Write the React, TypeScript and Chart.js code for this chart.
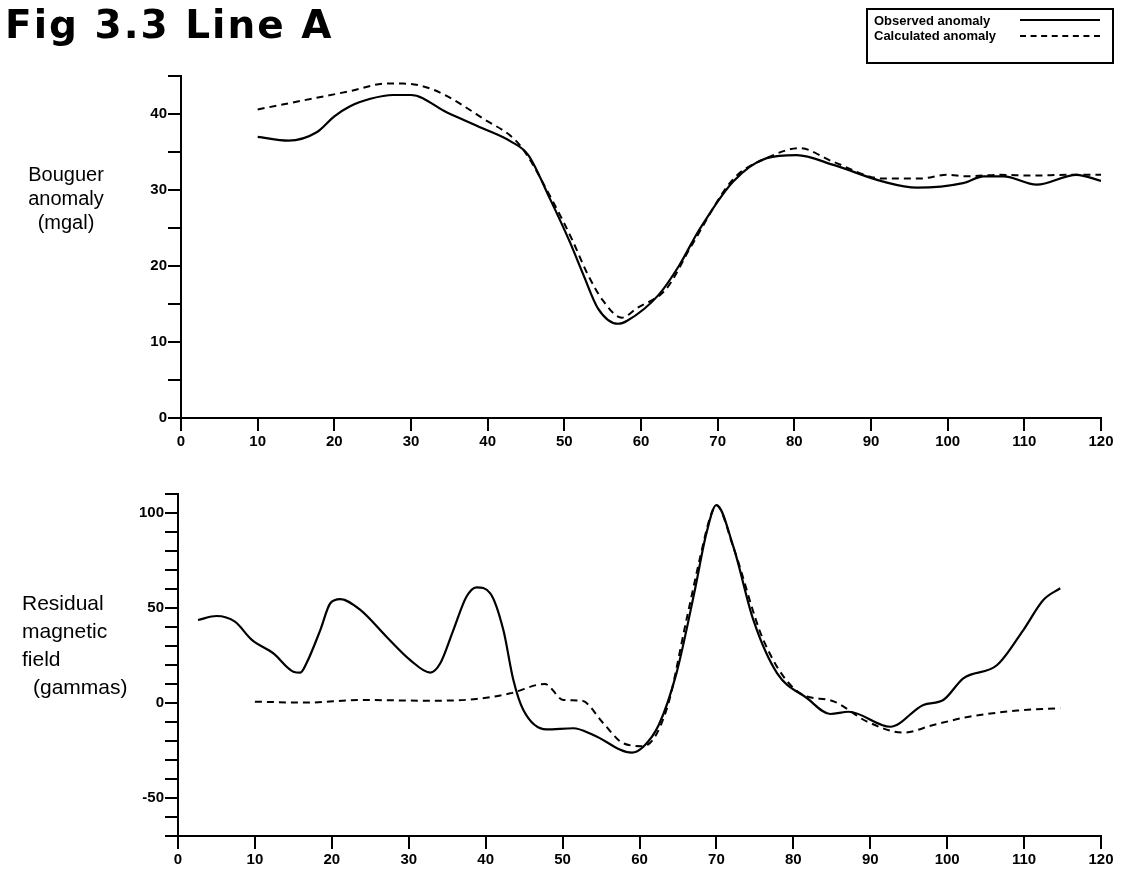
import React, { useEffect, useRef } from "react";
import { Chart, registerables } from "chart.js";

Chart.register(...registerables);

// ---- Top panel: Bouguer anomaly (mgal) ----
const gravObsX = [10, 14, 17.7, 20, 22, 24.7, 27.7, 30, 34.7, 39.4, 43, 45.3, 48.1, 50.7, 52.5, 54.4, 57, 58.2, 62.3, 65, 67.5, 72, 76.4, 80.3, 85.1, 91.6, 96, 102, 104.7, 107.3, 111.6, 116.8, 120];
const gravObsY = [37, 36.5, 37.6, 39.7, 41, 42, 42.5, 42.5, 40.2, 38.1, 36.4, 34.6, 28.9, 23.2, 18.8, 14.4, 12.4, 12.8, 16.2, 20.1, 24.6, 31.1, 34.2, 34.6, 33.3, 31.1, 30.3, 30.9, 31.8, 31.8, 30.7, 32, 31.2];
const gravCalcX = [10, 15.5, 22, 26.8, 29, 32.9, 39.4, 44.2, 48.5, 51, 53, 55, 57.5, 59.4, 63.3, 66.6, 72, 76.4, 80.7, 85.1, 91.6, 96.4, 99.9, 102.5, 106.8, 111.1, 115.5, 120];
const gravCalcY = [40.6, 41.7, 43, 44, 44, 43.2, 39.4, 35.9, 28.5, 23.5, 19, 15.5, 13.2, 14.4, 17, 22.7, 31.4, 34.2, 35.5, 33.7, 31.5, 31.5, 32, 31.8, 32, 31.9, 32, 32];

// ---- Bottom panel: Residual magnetic field (gammas) ----
const magObsX = [2.6, 5, 7.4, 9.6, 12.4, 15, 15.9, 16.7, 18.5, 19.8, 21.1, 23.7, 27.1, 30.2, 32.8, 34.1, 35.8, 37.5, 38.8, 40.6, 42.3, 43.6, 44.9, 47.9, 51.4, 54, 59, 60.5, 62.5, 64.8, 67.2, 68.7, 70, 72.2, 74.8, 77.9, 81.8, 84.8, 87.2, 92.6, 96.9, 99.5, 102.1, 106.5, 109.9, 112.5, 114.7];
const magObsY = [43.7, 45.8, 42.8, 33.2, 26.1, 16.5, 16, 20.9, 38.4, 52.5, 54.7, 49, 34.9, 22.6, 16, 20.9, 38.4, 55.9, 60.9, 57.7, 38.4, 12.1, -3.7, -13.9, -13.3, -16.8, -26.1, -23, -11.6, 15.6, 59.5, 89.3, 104.2, 82.3, 43.7, 15.6, 2.5, -5.8, -4.6, -12.5, -1, 1.6, 13, 20, 38.4, 54.2, 60.4];
const magCalcX = [10, 16.7, 23.7, 32.3, 38.8, 43.2, 47.7, 50.1, 52.5, 55.3, 57.9, 60.5, 63.5, 66.1, 67.9, 69.2, 70, 72.2, 76.1, 80.9, 85, 89.6, 94.3, 98.2, 102.5, 109.1, 114.7];
const magCalcY = [0.7, 0.2, 1.6, 1.2, 2.1, 5.1, 10, 1.6, 1.2, -10.7, -21.2, -22.7, -3.7, 43.7, 77, 98, 104, 82, 33.2, 5.1, 1.2, -9.8, -15.6, -11.6, -7.5, -4, -2.8];

// ---- Axis ticks ----
const xTickLabels = ["0", "10", "20", "30", "40", "50", "60", "70", "80", "90", "100", "110", "120"];
const gravLabelled = [0, 10, 20, 30, 40];
const magLabelled = [-50, 0, 50, 100];

const legendLabels = ["Observed anomaly", "Calculated anomaly"];

const zip = (xs: number[], ys: number[]) => xs.map((x, i) => ({ x, y: ys[i] }));

const tickFont = { family: "'Liberation Sans', Arial, sans-serif", size: 15, weight: "bold" as const };

function makeOptions(
  yMin: number,
  yMax: number,
  yStep: number,
  labelled: number[],
  yWidth: number,
  xHeight: number,
  padTop: number
) {
  return {
    responsive: false,
    animation: false as const,
    devicePixelRatio: 1,
    layout: { padding: { top: padTop, right: 27, left: 0, bottom: 0 } },
    plugins: { legend: { display: false }, tooltip: { enabled: false } },
    elements: { point: { radius: 0 } },
    scales: {
      x: {
        type: "linear" as const,
        min: 0,
        max: 120,
        afterFit: (s: any) => {
          s.height = xHeight;
        },
        afterBuildTicks: (s: any) => {
          s.ticks = xTickLabels.map((t) => ({ value: Number(t) }));
        },
        ticks: {
          color: "#000",
          font: tickFont,
          padding: 2,
          maxRotation: 0,
          autoSkip: false,
          callback: (v: any) => xTickLabels[xTickLabels.indexOf(String(v))] ?? "",
        },
        grid: { drawOnChartArea: false, drawTicks: true, tickLength: 13, color: "#000", lineWidth: 2 },
        border: { display: true, color: "#000", width: 2 },
      },
      y: {
        type: "linear" as const,
        min: yMin,
        max: yMax,
        afterFit: (s: any) => {
          s.width = yWidth;
        },
        ticks: {
          stepSize: yStep,
          color: "#000",
          font: tickFont,
          padding: 1,
          autoSkip: false,
          callback: (v: any) => (labelled.includes(Number(v)) ? String(v) : ""),
        },
        grid: { drawOnChartArea: false, drawTicks: true, tickLength: 13, color: "#000", lineWidth: 2 },
        border: { display: true, color: "#000", width: 2 },
      },
    },
  };
}

function lineSet(label: string, data: { x: number; y: number }[], dashed: boolean) {
  return {
    label,
    data,
    borderColor: "#000",
    backgroundColor: "#000",
    borderWidth: dashed ? 2 : 2.2,
    borderDash: dashed ? [7, 5] : [],
    pointRadius: 0,
    fill: false,
    cubicInterpolationMode: "monotone" as const,
  };
}

export default function App() {
  const topRef = useRef<HTMLCanvasElement>(null);
  const botRef = useRef<HTMLCanvasElement>(null);

  useEffect(() => {
    const top = new Chart(topRef.current!, {
      type: "line",
      data: {
        datasets: [
          lineSet(legendLabels[0], zip(gravObsX, gravObsY), false),
          lineSet(legendLabels[1], zip(gravCalcX, gravCalcY), true),
        ],
      },
      options: makeOptions(0, 45, 5, gravLabelled, 181, 42, 76) as any,
    });
    const bot = new Chart(botRef.current!, {
      type: "line",
      data: {
        datasets: [
          lineSet(legendLabels[0], zip(magObsX, magObsY), false),
          lineSet(legendLabels[1], zip(magCalcX, magCalcY), true),
        ],
      },
      options: makeOptions(-70, 110, 10, magLabelled, 178, 41, 34) as any,
    });
    return () => {
      top.destroy();
      bot.destroy();
    };
  }, []);

  const sans = "'Liberation Sans', Arial, sans-serif";

  return (
    <div style={{ position: "absolute", left: 0, top: 0, width: 1128, height: 877, background: "#fff", overflow: "hidden" }}>
      <canvas ref={topRef} width={1128} height={460} style={{ position: "absolute", left: 0, top: 0, width: 1128, height: 460 }} />
      <canvas ref={botRef} width={1128} height={417} style={{ position: "absolute", left: 0, top: 460, width: 1128, height: 417 }} />

      <div
        style={{
          position: "absolute",
          left: 5,
          top: 2,
          fontFamily: "'DejaVu Sans', sans-serif",
          fontWeight: "bold",
          fontSize: 39,
          letterSpacing: 2,
          lineHeight: "46px",
          color: "#000",
          whiteSpace: "nowrap",
        }}
      >
        Fig 3.3 Line A
      </div>

      <div
        style={{
          position: "absolute",
          left: 866,
          top: 8,
          width: 244,
          height: 52,
          border: "2px solid #000",
          fontFamily: sans,
          fontSize: 13,
          fontWeight: "bold",
          color: "#000",
        }}
      >
        <div style={{ position: "absolute", left: 6, top: 3, lineHeight: "16px" }}>{legendLabels[0]}</div>
        <div style={{ position: "absolute", left: 6, top: 18, lineHeight: "16px" }}>{legendLabels[1]}</div>
        <div style={{ position: "absolute", left: 152, top: 9, width: 80, borderTop: "2px solid #000" }} />
        <div style={{ position: "absolute", left: 152, top: 25, width: 80, borderTop: "2px dashed #000" }} />
      </div>

      <div
        style={{
          position: "absolute",
          left: 10,
          top: 162,
          width: 112,
          textAlign: "center",
          fontFamily: sans,
          fontSize: 20,
          lineHeight: "24px",
          color: "#000",
        }}
      >
        Bouguer
        <br />
        anomaly
        <br />
        (mgal)
      </div>

      <div
        style={{
          position: "absolute",
          left: 22,
          top: 589,
          fontFamily: sans,
          fontSize: 21,
          lineHeight: "28px",
          color: "#000",
          whiteSpace: "nowrap",
        }}
      >
        Residual
        <br />
        magnetic
        <br />
        field
        <br />
        <span style={{ marginLeft: 11 }}>(gammas)</span>
      </div>
    </div>
  );
}
